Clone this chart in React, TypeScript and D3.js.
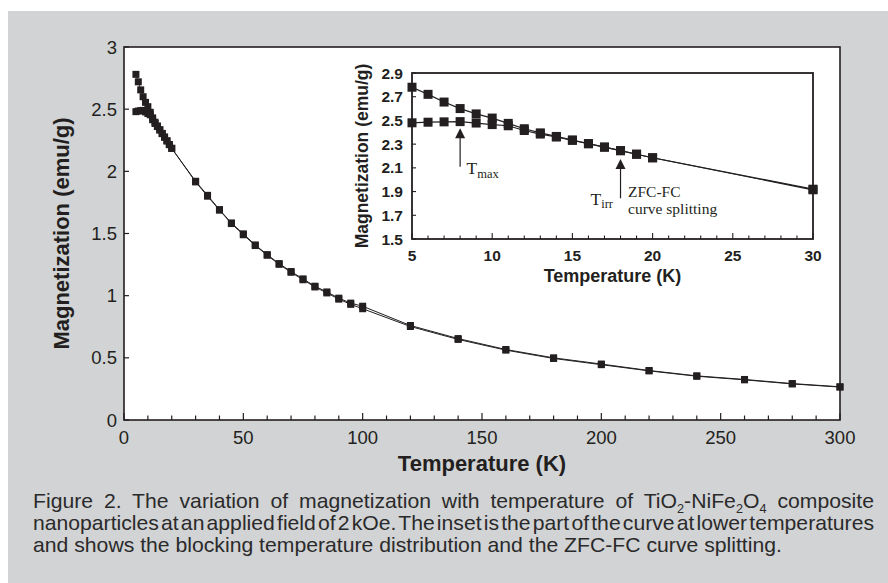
import { useLayoutEffect, useRef } from 'react';
import * as d3 from 'd3';

// temperatures (K) where M was measured
const TEMPS = [5, 6, 7, 8, 9, 10, 11, 12, 13, 14, 15, 16, 17, 18, 19, 20,
  30, 35, 40, 45, 50, 55, 60, 65, 70, 75, 80, 85, 90, 95, 100,
  120, 140, 160, 180, 200, 220, 240, 260, 280, 300];

// field-cooled curve (emu/g)
const FC = [2.78, 2.72, 2.655, 2.6, 2.555, 2.52, 2.475, 2.43, 2.395, 2.365, 2.335, 2.305, 2.275, 2.245, 2.215, 2.185,
  1.92, 1.807, 1.692, 1.585, 1.497, 1.408, 1.33, 1.258, 1.194, 1.135, 1.076, 1.03, 0.98, 0.94, 0.915,
  0.76, 0.655, 0.567, 0.5, 0.45, 0.398, 0.355, 0.326, 0.293, 0.267];

// zero-field-cooled curve (emu/g)
const ZFC = [2.48, 2.485, 2.488, 2.49, 2.478, 2.465, 2.455, 2.415, 2.385, 2.36, 2.332, 2.303, 2.275, 2.245, 2.215, 2.185,
  1.915, 1.8, 1.688, 1.58, 1.49, 1.403, 1.325, 1.252, 1.188, 1.128, 1.07, 1.022, 0.972, 0.93, 0.895,
  0.752, 0.648, 0.562, 0.495, 0.445, 0.395, 0.352, 0.323, 0.29, 0.265];

const MAIN_X_TICKS = [0, 50, 100, 150, 200, 250, 300];
const MAIN_Y_TICKS = [0, 0.5, 1, 1.5, 2, 2.5, 3];
const INSET_X_TICKS = [5, 10, 15, 20, 25, 30];
const INSET_Y_TICKS = [1.5, 1.7, 1.9, 2.1, 2.3, 2.5, 2.7, 2.9];

// arrows in the inset: temperature, tip and tail magnetization
const ARROWS = [
  { t: 8, tip: 2.434, tail: 2.11, sub: 'max' },
  { t: 18, tip: 2.175, tail: 1.843, sub: 'irr' },
];

const CAPTION = [
  [{ s: 'Figure 2. The variation of magnetization with temperature of TiO' }, { s: '2', sub: true }, { s: '-NiFe' }, { s: '2', sub: true }, { s: 'O' }, { s: '4', sub: true }, { s: ' composite' }],
  [{ s: 'nanoparticles at an applied field of 2 kOe. The inset is the part of the curve at lower temperatures' }],
  [{ s: 'and shows the blocking temperature distribution and the ZFC-FC curve splitting.' }],
];

const INK = '#231f20';
const GRAY = '#d1d3d4';
const SANS = "'Liberation Sans', Arial, Helvetica, sans-serif";
const SERIF = "'Liberation Serif', 'Times New Roman', serif";

export default function App() {
  const width = 888;
  const height = 583;
  const capRefs = useRef<(SVGTextElement | null)[]>([]);

  const x = d3.scaleLinear().domain([0, 300]).range([124, 840]);
  const y = d3.scaleLinear().domain([0, 3]).range([420, 47]);

  const xi = d3.scaleLinear().domain([5, 30]).range([412, 813]);
  const yi = d3.scaleLinear().domain([1.5, 2.9]).range([239, 73]);

  const pts = (vals: number[]) => TEMPS.map((t, i) => [t, vals[i]] as [number, number]);
  const mainLine = d3.line<[number, number]>().x((d) => x(d[0])).y((d) => y(d[1]));
  const insetLine = d3.line<[number, number]>().x((d) => xi(d[0])).y((d) => yi(d[1]));
  const insetPts = (vals: number[]) => pts(vals).filter((d) => d[0] <= 30);

  const minorMain = d3.range(0, 301, 10);
  const minorInset = d3.range(5, 31, 1);

  const sq = (cx: number, cy: number, s: number, k: string) => (
    <rect key={k} x={cx - s / 2} y={cy - s / 2} width={s} height={s} fill={INK} />
  );

  // caption: first line justified by word gaps, second squeezed, third natural
  const CAP_SX = 1.06;
  const CAP_W = 841;

  useLayoutEffect(() => {
    capRefs.current.forEach((el, i) => {
      if (!el || i === 2) return;
      el.setAttribute('word-spacing', '0');
      const w = el.getComputedTextLength();
      const target = CAP_W / CAP_SX;
      const spaces = (el.textContent || '').split(' ').length - 1;
      if (i === 1) {
        // squeeze words together, then compress glyphs if still too long
        const ws = Math.max((target - w) / spaces, -3.5);
        el.setAttribute('word-spacing', String(ws));
        const w2 = el.getComputedTextLength();
        if (w2 > target) {
          el.setAttribute('textLength', String(target));
          el.setAttribute('lengthAdjust', 'spacingAndGlyphs');
        }
      } else {
        el.setAttribute('word-spacing', String((target - w) / spaces));
      }
    });
  }, []);

  return (
    <svg width={width} height={height} style={{ position: 'absolute', left: 0, top: 0 }} fontFamily={SANS}>
      <rect x={0} y={0} width={width} height={height} fill="#fff" />
      <rect x={8} y={11} width={width - 8} height={height - 11} fill={GRAY} />

      {/* main plot */}
      <rect x={x(0)} y={y(3)} width={x(300) - x(0)} height={y(0) - y(3)} fill="#fff" />
      {minorMain.map((t) => (
        <line key={'mx' + t} x1={x(t)} x2={x(t)} y1={y(0)} y2={y(0) - (t % 50 === 0 ? 7 : 4.5)} stroke={INK} strokeWidth={1.2} />
      ))}
      {MAIN_Y_TICKS.map((v) => (
        <line key={'my' + v} x1={x(0)} x2={x(0) + 5} y1={y(v)} y2={y(v)} stroke={INK} strokeWidth={1.2} />
      ))}
      {MAIN_X_TICKS.map((t) => (
        <text key={'mxl' + t} x={x(t)} y={444} textAnchor="middle" fontSize={18.5} fill={INK}>{t}</text>
      ))}
      {MAIN_Y_TICKS.map((v) => (
        <text key={'myl' + v} x={117} y={y(v) + 6.5} textAnchor="end" fontSize={18.5} fill={INK}>{v}</text>
      ))}
      <text x={(x(0) + x(300)) / 2} y={471} textAnchor="middle" fontSize={22} fontWeight="bold" fill={INK}>Temperature (K)</text>
      <text transform={`translate(69,${(y(0) + y(3)) / 2}) rotate(-90)`} textAnchor="middle" fontSize={22} fontWeight="bold" fill={INK}>Magnetization (emu/g)</text>

      <path d={mainLine(pts(FC)) ?? ''} fill="none" stroke={INK} strokeWidth={1} />
      <path d={mainLine(pts(ZFC)) ?? ''} fill="none" stroke={INK} strokeWidth={1} />
      {pts(FC).map((d, i) => sq(x(d[0]), y(d[1]), 7, 'fc' + i))}
      {pts(ZFC).map((d, i) => sq(x(d[0]), y(d[1]), 7, 'zfc' + i))}
      <rect x={x(0)} y={y(3)} width={x(300) - x(0)} height={y(0) - y(3)} fill="none" stroke={INK} strokeWidth={1.6} />

      {/* inset */}
      <rect x={xi(5)} y={yi(2.9)} width={xi(30) - xi(5)} height={yi(1.5) - yi(2.9)} fill="#fff" />
      {minorInset.map((t) => (
        <line key={'ix' + t} x1={xi(t)} x2={xi(t)} y1={yi(1.5)} y2={yi(1.5) - (t % 5 === 0 ? 6 : 3.5)} stroke={INK} strokeWidth={1.1} />
      ))}
      {INSET_Y_TICKS.map((v) => (
        <line key={'iy' + v} x1={xi(5)} x2={xi(5) + 4} y1={yi(v)} y2={yi(v)} stroke={INK} strokeWidth={1.1} />
      ))}
      {INSET_X_TICKS.map((t) => (
        <text key={'ixl' + t} x={xi(t)} y={260.5} textAnchor="middle" fontSize={15.5} fontWeight="bold" fill={INK}>{t}</text>
      ))}
      {INSET_Y_TICKS.map((v) => (
        <text key={'iyl' + v} x={403} y={yi(v) + 5.5} textAnchor="end" fontSize={15.5} fontWeight="bold" fill={INK}>{d3.format('.1f')(v)}</text>
      ))}
      <text x={(xi(5) + xi(30)) / 2} y={282} textAnchor="middle" fontSize={18} fontWeight="bold" fill={INK}>Temperature (K)</text>
      <text transform={`translate(368,${(yi(1.5) + yi(2.9)) / 2}) rotate(-90)`} textAnchor="middle" fontSize={17.5} fontWeight="bold" fill={INK}>Magnetization (emu/g)</text>

      <path d={insetLine(insetPts(FC)) ?? ''} fill="none" stroke={INK} strokeWidth={1.2} />
      <path d={insetLine(insetPts(ZFC)) ?? ''} fill="none" stroke={INK} strokeWidth={1.2} />
      {insetPts(FC).map((d, i) => sq(xi(d[0]), yi(d[1]), 9, 'ifc' + i))}
      {insetPts(ZFC).map((d, i) => sq(xi(d[0]), yi(d[1]), 9, 'izfc' + i))}

      {ARROWS.map((a) => {
        const ax = xi(a.t);
        const tip = yi(a.tip);
        const tail = yi(a.tail);
        return (
          <g key={a.sub}>
            <line x1={ax} x2={ax} y1={tip + 8} y2={tail} stroke={INK} strokeWidth={1.2} />
            <path d={`M${ax},${tip} L${ax - 5},${tip + 10} L${ax + 5},${tip + 10} Z`} fill={INK} />
          </g>
        );
      })}
      <text x={xi(8) + 6.5} y={yi(2.11) + 7} fontFamily={SERIF} fontSize={17.5} fill={INK}>
        T<tspan fontSize={12.5} dy={4}>max</tspan>
      </text>
      <text x={xi(18) - 30} y={yi(1.843) + 7} fontFamily={SERIF} fontSize={17.5} fill={INK}>
        T<tspan fontSize={12.5} dy={3}>irr</tspan>
      </text>
      <text x={xi(18) + 7.5} y={196.7} fontFamily={SERIF} fontSize={15.5} fill={INK}>ZFC-FC</text>
      <text x={xi(18) + 7.5} y={214} fontFamily={SERIF} fontSize={15.5} fill={INK}>curve splitting</text>
      <rect x={xi(5)} y={yi(2.9)} width={xi(30) - xi(5)} height={yi(1.5) - yi(2.9)} fill="none" stroke={INK} strokeWidth={1.8} />

      {/* caption */}
      {CAPTION.map((line, li) => (
        <g key={'cap' + li} transform={`translate(33,${508 + li * 22}) scale(${CAP_SX},1)`}>
          <text ref={(el) => { capRefs.current[li] = el; }} x={0} y={0} fontSize={20} fill="#2b2a2b">
            {line.map((seg, si) =>
              seg.sub ? (
                <tspan key={si} fontSize={12} dy={5}>{seg.s}</tspan>
              ) : (
                <tspan key={si} dy={si > 0 && line[si - 1].sub ? -5 : 0}>{seg.s}</tspan>
              )
            )}
          </text>
        </g>
      ))}
    </svg>
  );
}
